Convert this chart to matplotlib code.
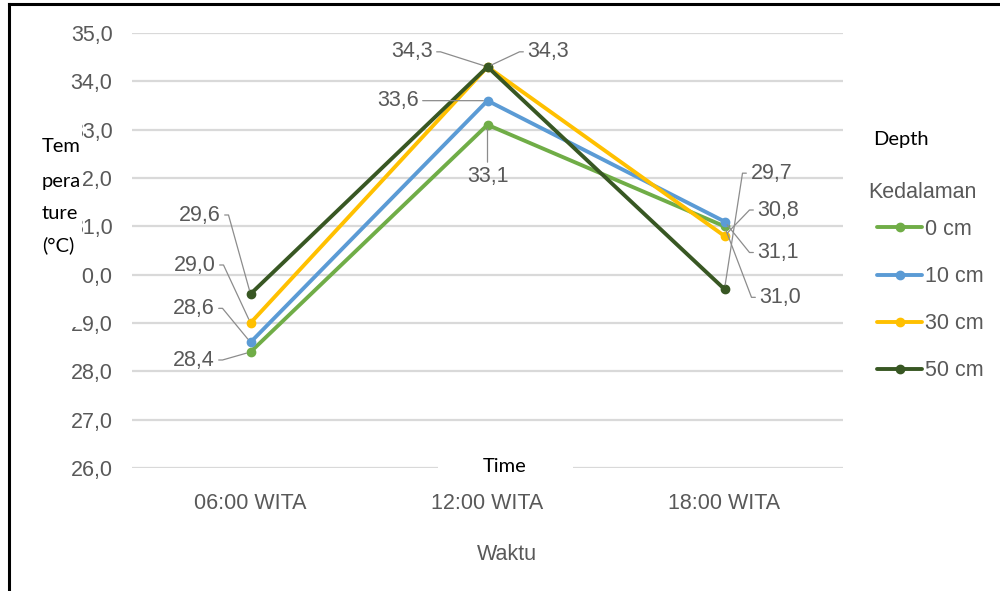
import matplotlib.pyplot as plt
from matplotlib.lines import Line2D
from matplotlib.patches import Rectangle

times = ['06:00 WITA', '12:00 WITA', '18:00 WITA']
depths = ['0 cm', '10 cm', '30 cm', '50 cm']
temp_0 = [28.4, 33.1, 31.0]
temp_10 = [28.6, 33.6, 31.1]
temp_30 = [29.0, 34.3, 30.8]
temp_50 = [29.6, 34.3, 29.7]
yticks = [26, 27, 28, 29, 30, 31, 32, 33, 34, 35]

series = [temp_0, temp_10, temp_30, temp_50]
colors = ['#70AD47', '#5B9BD5', '#FFC000', '#385723']

# label offsets in pixels (dx, dy) and which side of the text the leader starts from
label_pos = [
    [(-36, -8, 'r'), (0, -52, 'b'), (35, -71, 'l')],
    [(-36, 34, 'r'), (-69, 0, 'r'), (33, -31, 'l')],
    [(-35, 58, 'r'), (40, 15, 'l'), (33, 26, 'l')],
    [(-30, 79, 'r'), (-55, 15, 'r'), (26, 116, 'l')],
]

W, H = 1000, 591
gray = '#595959'
num_font = ['Liberation Sans', 'DejaVu Sans']
word_font = ['Lato', 'DejaVu Sans']
fs = 15.5


def fx(px):
    return px / W


def fy(py):
    return 1 - py / H


def fmt(v):
    return f'{v:.1f}'.replace('.', ',')


fig = plt.figure(figsize=(W / 100, H / 100), dpi=100)
ax = fig.add_axes([fx(132), fy(468), fx(843) - fx(132), fy(33) - fy(468)])

x = list(range(len(times)))
for vals, c, lab in zip(series, colors, depths):
    ax.plot(x, vals, color=c, lw=2.8, marker='o', ms=6, label=lab,
            solid_capstyle='round')

px2pt = 0.72
for vals, c, offs in zip(series, colors, label_pos):
    for xi, v, (dx, dy, side) in zip(x, vals, offs):
        if side == 'r':
            ha, rel, conn = 'right', (1, 0.5), 'arc,angleA=0,armA=8,angleB=0,armB=0,rad=0'
        elif side == 'l':
            ha, rel, conn = 'left', (0, 0.5), 'arc,angleA=180,armA=8,angleB=0,armB=0,rad=0'
        else:
            ha, rel, conn = 'center', (0.5, 1), 'arc3'
        ax.annotate(fmt(v), xy=(xi, v), xytext=(dx * px2pt, dy * px2pt),
                    textcoords='offset points', ha=ha, va='center',
                    fontsize=fs, color=gray, family=num_font,
                    arrowprops=dict(arrowstyle='-', color='#8c8c8c', lw=0.9,
                                    relpos=rel, connectionstyle=conn,
                                    shrinkA=1, shrinkB=3))

ax.set_xlim(-0.5, 2.5)
ax.set_ylim(26, 35)
ax.set_yticks(yticks)
ax.set_yticklabels([fmt(t) for t in yticks])
ax.set_xticks(x)
ax.set_xticklabels(times)
ax.tick_params(length=0, labelsize=fs, labelcolor=gray)
ax.tick_params(axis='y', pad=14)
ax.tick_params(axis='x', pad=18)
for t in ax.get_xticklabels() + ax.get_yticklabels():
    t.set_family(num_font)
ax.grid(axis='y', color='#d9d9d9', lw=1.6)
ax.set_axisbelow(True)
for s in ax.spines.values():
    s.set_visible(False)

leg = ax.legend(loc='upper left', bbox_to_anchor=(fx(877), fy(219)),
                bbox_transform=fig.transFigure, frameon=False,
                prop={'family': num_font, 'size': fs},
                labelcolor=gray, handlelength=2.1, handletextpad=0.15,
                labelspacing=1.21, borderaxespad=0, borderpad=0)
fig.text(fx(922), fy(192), 'Kedalaman', ha='center', va='center',
         fontsize=fs, color=gray, family=num_font)

fig.text(fx(507), fy(555), 'Waktu', ha='center', va='center',
         fontsize=fs, color=gray, family=num_font)

# English overlay labels on white boxes
fig.add_artist(Rectangle((fx(12), fy(327)), fx(82) - fx(12), fy(100) - fy(327),
                         transform=fig.transFigure, facecolor='white',
                         edgecolor='none', zorder=5))
for txt, py in zip(['Tem', 'pera', 'ture', '(°C)'], [147, 181, 213, 245]):
    fig.text(fx(42), fy(py), txt, ha='left', va='center', fontsize=14.5,
             color='black', family=word_font, zorder=6)

fig.add_artist(Rectangle((fx(438), fy(478)), fx(573) - fx(438), fy(455) - fy(478),
                         transform=fig.transFigure, facecolor='white',
                         edgecolor='none', zorder=5))
fig.text(fx(505), fy(467), 'Time', ha='center', va='center', fontsize=14.5,
         color='black', family=word_font, zorder=6)
fig.text(fx(873), fy(139), 'Depth', ha='left', va='center', fontsize=14.5,
         color='black', family=word_font, zorder=6)

# frame lines on the left and top
fig.add_artist(Line2D([fx(9), fx(9)], [0, fy(4)], transform=fig.transFigure,
                      color='black', lw=2.2))
fig.add_artist(Line2D([fx(9), 1], [fy(4), fy(4)], transform=fig.transFigure,
                      color='black', lw=2.2))

fig.savefig('out.png', dpi=100)
